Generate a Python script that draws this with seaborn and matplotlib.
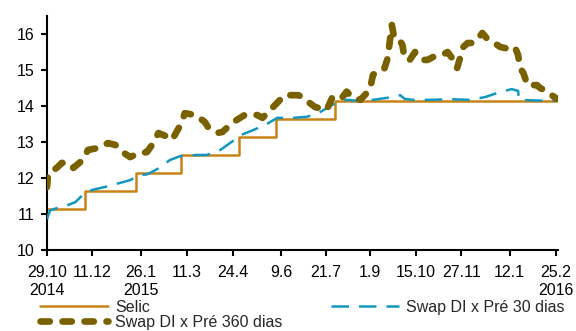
import matplotlib
matplotlib.use("Agg")
import matplotlib.pyplot as plt
import seaborn as sns
import pandas as pd

# ---------------- data ----------------
selic_dates = ["2014-10-29", "2014-12-04", "2015-01-22", "2015-03-05",
               "2015-04-30", "2015-06-04", "2015-07-30", "2016-02-26"]
selic_values = [11.15, 11.65, 12.15, 12.65, 13.15, 13.65, 14.15, 14.15]

swap30_dates = ["2014-10-29", "2014-10-30", "2014-11-01", "2014-11-08", "2014-11-18",
                "2014-11-25", "2014-12-02", "2014-12-11", "2014-12-23", "2015-01-06",
                "2015-01-16", "2015-01-25", "2015-02-01", "2015-02-11", "2015-02-23",
                "2015-03-04", "2015-03-21", "2015-03-30", "2015-04-12", "2015-04-21",
                "2015-05-02", "2015-05-13", "2015-05-24", "2015-05-29", "2015-06-05",
                "2015-06-20", "2015-07-03", "2015-07-14", "2015-07-22", "2015-08-01",
                "2015-08-10", "2015-08-23", "2015-09-04", "2015-09-23", "2015-09-30",
                "2015-10-04", "2015-10-12", "2015-10-28", "2015-11-16", "2015-12-05",
                "2015-12-20", "2015-12-31", "2016-01-14", "2016-01-20", "2016-01-21",
                "2016-02-10", "2016-02-26"]
swap30_values = [10.85, 10.95, 11.10, 11.17, 11.25,
                 11.33, 11.53, 11.67, 11.75, 11.86,
                 11.94, 12.08, 12.10, 12.25, 12.50,
                 12.60, 12.64, 12.64, 12.78, 12.97,
                 13.20, 13.33, 13.47, 13.55, 13.67,
                 13.67, 13.70, 13.80, 13.94, 14.11,
                 14.17, 14.14, 14.17, 14.25, 14.30,
                 14.20, 14.17, 14.17, 14.19, 14.17,
                 14.25, 14.36, 14.47, 14.42, 14.17,
                 14.15, 14.15]

swap360_dates = ["2014-10-29", "2014-10-30", "2014-11-08", "2014-11-12", "2014-11-20",
                 "2014-11-23", "2014-12-02", "2014-12-07", "2014-12-16", "2014-12-26",
                 "2015-01-02", "2015-01-09", "2015-01-16", "2015-01-23", "2015-02-01",
                 "2015-02-06", "2015-02-12", "2015-02-21", "2015-02-25", "2015-03-06",
                 "2015-03-09", "2015-03-19", "2015-03-28", "2015-03-31", "2015-04-09",
                 "2015-04-14", "2015-04-23", "2015-05-05", "2015-05-17", "2015-05-22",
                 "2015-06-01", "2015-06-12", "2015-06-25", "2015-06-29", "2015-07-06",
                 "2015-07-11", "2015-07-22", "2015-07-27", "2015-08-04", "2015-08-10",
                 "2015-08-16", "2015-08-23", "2015-08-29", "2015-09-01", "2015-09-04",
                 "2015-09-09", "2015-09-15", "2015-09-18", "2015-09-22", "2015-09-24",
                 "2015-09-28", "2015-10-02", "2015-10-04", "2015-10-09", "2015-10-14",
                 "2015-10-21", "2015-10-26", "2015-10-31", "2015-11-09", "2015-11-14",
                 "2015-11-21", "2015-11-23", "2015-11-29", "2015-12-03", "2015-12-08",
                 "2015-12-12", "2015-12-17", "2015-12-21", "2015-12-27", "2016-01-03",
                 "2016-01-09", "2016-01-17", "2016-01-20", "2016-01-22", "2016-01-25",
                 "2016-01-29", "2016-02-07", "2016-02-10", "2016-02-17", "2016-02-21",
                 "2016-02-26"]
swap360_values = [11.75, 12.10, 12.30, 12.42, 12.40,
                  12.28, 12.50, 12.78, 12.83, 12.97,
                  12.92, 12.72, 12.58, 12.67, 12.72,
                  12.92, 13.25, 13.14, 13.06, 13.53,
                  13.80, 13.75, 13.56, 13.42, 13.25,
                  13.28, 13.53, 13.75, 13.75, 13.67,
                  13.97, 14.30, 14.30, 14.25, 14.08,
                  13.97, 13.89, 14.22, 14.17, 14.40,
                  14.22, 14.17, 14.36, 14.44, 14.86,
                  15.00, 15.05, 15.33, 16.25, 15.92,
                  15.89, 15.70, 15.33, 15.28, 15.50,
                  15.28, 15.28, 15.36, 15.42, 15.50,
                  15.22, 15.05, 15.64, 15.75, 15.75,
                  15.83, 16.03, 15.89, 15.78, 15.64,
                  15.60, 15.64, 15.42, 15.05, 14.92,
                  14.58, 14.58, 14.50, 14.40, 14.30,
                  14.20]

tick_dates = ["2014-10-29", "2014-12-11", "2015-01-26", "2015-03-11", "2015-04-24",
              "2015-06-09", "2015-07-21", "2015-09-01", "2015-10-15", "2015-11-27",
              "2016-01-12", "2016-02-25"]
tick_labels = ["29.10\n2014", "11.12", "26.1\n2015", "11.3", "24.4", "9.6",
               "21.7", "1.9", "15.10", "27.11", "12.1", "25.2\n2016"]
y_ticks = [10, 11, 12, 13, 14, 15, 16]

label_selic = "Selic"
label_30 = "Swap DI x Pré 30 dias"
label_360 = "Swap DI x Pré 360 dias"

# ---------------- style ----------------
sns.set_style("ticks")
plt.rcParams["font.family"] = ["Liberation Sans", "DejaVu Sans"]
FS = 11.5
plt.rcParams["font.size"] = FS

c_selic = "#c98216"
c_30 = "#1297bf"
c_360 = "#7a6100"

fig = plt.figure(figsize=(5.76, 3.31), dpi=100)
ax = fig.add_axes([47 / 576, 1 - 250 / 331, (558 - 47) / 576, (250 - 16) / 331])

df_selic = pd.DataFrame({"date": pd.to_datetime(selic_dates), "v": selic_values})
df_30 = pd.DataFrame({"date": pd.to_datetime(swap30_dates), "v": swap30_values})
df_360 = pd.DataFrame({"date": pd.to_datetime(swap360_dates), "v": swap360_values})

sns.lineplot(data=df_selic, x="date", y="v", ax=ax, color=c_selic, lw=1.8,
             drawstyle="steps-post", label=label_selic, legend=False)
sns.lineplot(data=df_360, x="date", y="v", ax=ax, color=c_360, lw=4.8,
             label=label_360, legend=False)
sns.lineplot(data=df_30, x="date", y="v", ax=ax, color=c_30, lw=1.8,
             label=label_30, legend=False)

lines = ax.get_lines()
l_selic, l_360, l_30 = lines[0], lines[1], lines[2]
l_360.set_linestyle((0, (1.4, 1.9)))
l_360.set_dash_capstyle("round")
l_30.set_linestyle((0, (7, 4)))
l_30.set_dash_capstyle("butt")
l_selic.set_zorder(2)
l_30.set_zorder(3)
l_360.set_zorder(4)

ax.set_xlim(pd.Timestamp("2014-10-29"), pd.Timestamp("2016-02-27"))
ax.set_ylim(10, 16.5)
ax.set_xticks(pd.to_datetime(tick_dates))
ax.set_xticklabels(tick_labels)
ax.set_yticks(y_ticks)
ax.set_xlabel("")
ax.set_ylabel("")

for s in ["top", "right"]:
    ax.spines[s].set_visible(False)
for s in ["left", "bottom"]:
    ax.spines[s].set_linewidth(1.5)
    ax.spines[s].set_color("black")
ax.tick_params(axis="both", length=4, width=1.5, colors="black", labelsize=FS, pad=5)
ax.tick_params(axis="x", pad=7)
ax.grid(False)

fig.legend([l_selic, l_360, l_30], [label_selic, label_360, label_30],
           loc="upper left", bbox_to_anchor=(40 / 576, 1 - 300 / 331),
           bbox_transform=fig.transFigure, ncol=2, frameon=False,
           handlelength=4.25, handletextpad=0.44, columnspacing=3.05,
           labelspacing=0.0, borderpad=0, borderaxespad=0, fontsize=FS)

fig.savefig("out.png", dpi=100, facecolor="white")
